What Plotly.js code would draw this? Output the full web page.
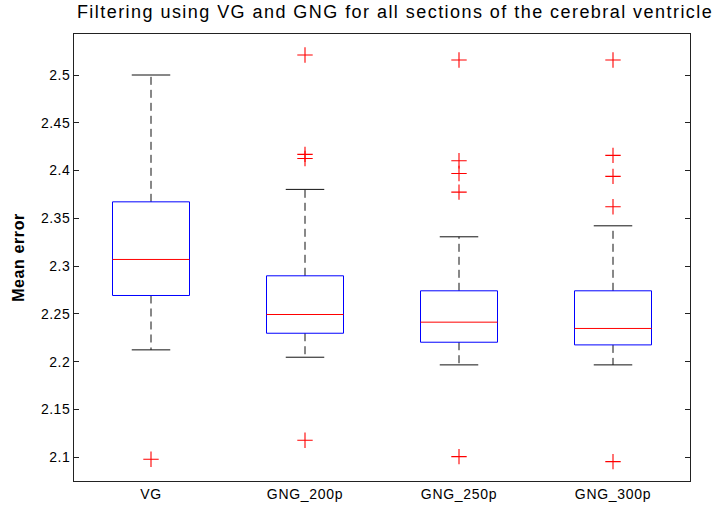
<!DOCTYPE html>
<html>
<head>
<meta charset="utf-8">
<script src="https://cdn.plot.ly/plotly-3.0.1.min.js"></script>
<style>
html,body{margin:0;padding:0;background:#fff;}
#chart{width:717px;height:508px;}
.gtitle{letter-spacing:1.45px;}
.xtick text{letter-spacing:0.7px;}
.ytick text{letter-spacing:0.5px;}
.g-ytitle text{letter-spacing:0.6px;}
</style>
</head>
<body>
<div id="chart"></div>
<script>
// Data
const categories = ['VG', 'GNG_200p', 'GNG_250p', 'GNG_300p'];
const lowerWhisker = [2.2124, 2.2047, 2.1967, 2.1967];
const q1 = [2.2693, 2.2298, 2.2204, 2.2176];
const median = [2.3070, 2.2494, 2.2414, 2.2348];
const q3 = [2.3673, 2.2899, 2.2742, 2.2742];
const upperWhisker = [2.5000, 2.3803, 2.3307, 2.3422];
const outliers = [
  [2.0979],
  [2.5209, 2.4170, 2.4127, 2.1178],
  [2.5157, 2.4103, 2.3970, 2.3775, 2.1007],
  [2.5157, 2.4159, 2.3939, 2.3621, 2.0955]
];

const halfBox = 0.25, halfCap = 0.125;
const traces = [];
const pos = categories.map((c, i) => i + 1);

pos.forEach((x, i) => {
  // dashed whiskers
  traces.push({type: 'scatter', mode: 'lines', x: [x, x, null, x, x],
    y: [q3[i], upperWhisker[i], null, q1[i], lowerWhisker[i]],
    line: {color: '#111', width: 1, dash: '8px,5px'}, hoverinfo: 'skip', showlegend: false});
  // caps
  traces.push({type: 'scatter', mode: 'lines', x: [x - halfCap, x + halfCap, null, x - halfCap, x + halfCap],
    y: [upperWhisker[i], upperWhisker[i], null, lowerWhisker[i], lowerWhisker[i]],
    line: {color: '#111', width: 1}, hoverinfo: 'skip', showlegend: false});
  // box
  traces.push({type: 'scatter', mode: 'lines',
    x: [x - halfBox, x + halfBox, x + halfBox, x - halfBox, x - halfBox],
    y: [q1[i], q1[i], q3[i], q3[i], q1[i]],
    line: {color: '#0000ff', width: 1}, hoverinfo: 'skip', showlegend: false});
  // median
  traces.push({type: 'scatter', mode: 'lines', x: [x - halfBox, x + halfBox], y: [median[i], median[i]],
    line: {color: '#ff0000', width: 1}, hoverinfo: 'skip', showlegend: false});
  // outliers
  traces.push({type: 'scatter', mode: 'markers', x: outliers[i].map(() => x), y: outliers[i],
    marker: {symbol: 'cross-thin-open', size: 11, color: '#ff0000', line: {color: '#ff0000', width: 1.1}},
    hoverinfo: 'skip', showlegend: false});
});

const layout = {
  width: 717, height: 508,
  margin: {l: 74, r: 27, t: 34, b: 27},
  paper_bgcolor: '#fff', plot_bgcolor: '#fff',
  font: {family: '"Liberation Sans", Arial, sans-serif', color: '#000', size: 13},
  title: {text: 'Filtering using VG and GNG for all sections of the cerebral ventricle',
    font: {size: 18, color: '#000'}, x: 0.551, xanchor: 'center', y: 0.99, yanchor: 'top'},
  xaxis: {range: [0.5, 4.5], tickvals: pos, ticktext: categories, ticks: '',
    showgrid: false, zeroline: false, showline: true, linecolor: '#222', linewidth: 1, mirror: true,
    tickfont: {size: 14}, fixedrange: true},
  yaxis: {range: [2.0752, 2.5429], tickvals: [2.1, 2.15, 2.2, 2.25, 2.3, 2.35, 2.4, 2.45, 2.5],
    ticktext: ['2.1', '2.15', '2.2', '2.25', '2.3', '2.35', '2.4', '2.45', '2.5'],
    ticks: 'inside', ticklen: 5, tickcolor: '#222', showgrid: false, zeroline: false,
    showline: true, linecolor: '#222', linewidth: 1, mirror: 'ticks',
    title: {text: '<b>Mean error</b>', font: {size: 16}, standoff: 12}, tickfont: {size: 14}, fixedrange: true}
};

Plotly.newPlot('chart', traces, layout, {displayModeBar: false, staticPlot: true});
</script>
</body>
</html>
